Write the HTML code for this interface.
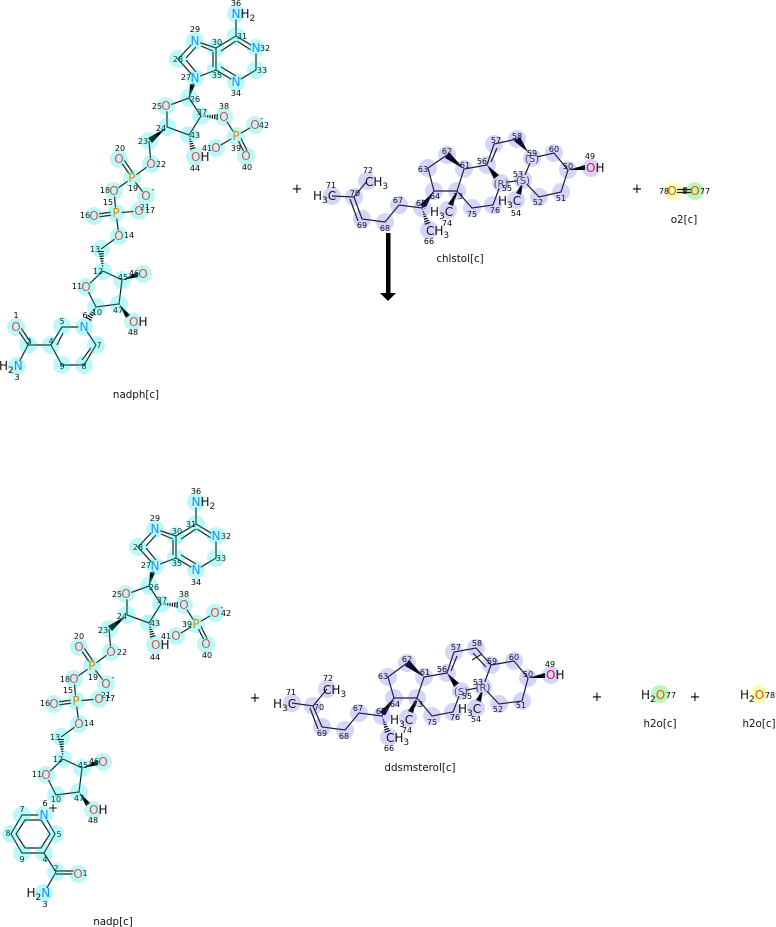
<!DOCTYPE html>
<html><head><meta charset="utf-8"><style>
html,body{margin:0;padding:0;background:#fff}
svg{display:block}
text{font-family:"DejaVu Sans","Liberation Sans",sans-serif}
.b{fill:none;stroke:#1a1a1a;stroke-width:1.2}
.m{fill:none;stroke:#fff;stroke-width:11;stroke-linecap:round}
.hc{fill:none;stroke:#00e5e5;stroke-width:18;stroke-linecap:round;opacity:.26}
.hl{fill:none;stroke:#4040e0;stroke-width:18;stroke-linecap:round;opacity:.22}
.d{stroke:#fff;stroke-width:9;stroke-dasharray:1.2 1.2;fill:none}
.nm text{font-size:8px;text-anchor:middle;fill:#000}
.at text{font-size:12px;text-anchor:middle}
.o{fill:#d9534f}.n{fill:#1e90ff}.p{fill:#cc8a10}.r{fill:#e8103c}.f{fill:#f05020}
.lb{font-size:10.3px;text-anchor:middle;fill:#111}
.pl{font-size:13px;text-anchor:middle;fill:#000}
.t{font-size:12px;fill:#111}
.s{font-size:9px}
.st{font-size:10px;text-anchor:middle;fill:#444}
</style></head><body>
<svg width="776" height="927" viewBox="0 0 776 927" xmlns="http://www.w3.org/2000/svg">
<defs>
<g id="w"><polygon points="189,98 190,84 195,85"/><polygon points="166,128 148,138 152,143"/><polygon points="122,280 138,272 139,277"/><polygon points="119,304 126,318 130,315"/>
<polygon points="201,116 218,114 218,120"/><path class="d" d="M201 116L218 117"/><polygon points="189,135 190,151 196,149"/><path class="d" d="M189 135L193 150"/><polygon points="103,270 98,251 104,251"/><path class="d" d="M103 270L101 251"/></g>
<path id="cb" class="b" d="M236 18V36L256 48V70L236 82L216 70V48L236 36M216 48L195 41L178 59L195 78L216 70M213 52V67M186 58L196 47M201 46L213 51M186 60L196 72M237 41L251 50M221 51L236 41M221 67L236 76M195 78L189 98L201 116L189 135L167 127V106L189 98M224 117L236 136L255 125M236 136L216 148M236 136L246 156M239 134.500L249 154.500M149 141L151 164L132 178L119 159M135 176L122 157M132 178L146 196M132 178L114 191L116 213M116 211.500L94 214.500M116 214.500L94 217.500M116 213L139 211M116 213L119 236L101 249M103 271L86 287L96 307L119 304L122 280L103 271"/>
<path id="cm" class="m" d="M236 14h0M256 48h0M236 82h0M195 41h0M195 78h0M166 106h0M224 117h0M255 125h0M216 148h0M246 156h0M236 136h0M195 157h0M151 164h0M119 159h0M132 178h0M146 196h0M114 191h0M116 213h0M94 216h0M139 211h0M119 236h0M86 287h0M143 274h0M133 322h0"/>
<path id="ch" class="hc" d="M236 14h0M236 36h0M256 48h0M256 70h0M236 82h0M216 70h0M216 48h0M195 41h0M178 59h0M195 78h0M189 98h0M166 106h0M201 116h0M167 127h0M189 135h0M224 117h0M236 136h0M255 125h0M216 148h0M246 156h0M195 157h0M149 141h0M151 164h0M119 159h0M132 178h0M146 196h0M114 191h0M116 213h0M94 216h0M139 211h0M119 236h0M101 249h0M103 271h0M86 287h0M122 280h0M143 274h0M96 307h0M119 304h0M133 322h0M28 345h0"/>
</defs>

<!-- molecule 1 -->
<g fill="#000"><use href="#w"/><polygon points="96,307 85,318 91,322"/><path class="d" d="M96 307L88 320"/></g>
<use href="#cb"/>
<path class="b" d="M84 327H62L51 345L62 365H84L96 345L84 327M51 345H28L16 327M28 345L17 366M57 345L63 333M82 360L91 348M31 343L19 325"/>
<use href="#cm"/><path class="m" d="M84 327h0M16 327h0M17 366h0"/>
<g class="nm">
<text x="236" y="6">36</text><text x="195" y="32">29</text><text x="242" y="39">31</text><text x="217" y="45">30</text><text x="265" y="51">32</text><text x="262" y="73">33</text><text x="178" y="62">28</text><text x="186" y="80">27</text><text x="217" y="78">35</text><text x="236" y="96">34</text><text x="195" y="102">26</text><text x="157" y="109">25</text><text x="202" y="115">37</text><text x="224" y="109">38</text><text x="264" y="128">42</text><text x="262" y="121">-</text><text x="161" y="131">24</text><text x="195" y="138">43</text><text x="143" y="144">23</text><text x="207" y="151">41</text><text x="236" y="151">39</text><text x="247" y="170">40</text><text x="195" y="171">44</text><text x="120" y="151">20</text><text x="161" y="167">22</text><text x="133" y="191">19</text><text x="153" y="192">-</text><text x="105" y="193">18</text><text x="108" y="205">15</text><text x="145" y="210">21</text><text x="150" y="213">17</text><text x="85" y="218">16</text><text x="129" y="238">14</text><text x="95" y="252">13</text><text x="98" y="274">12</text><text x="123" y="280">45</text><text x="134" y="276">46</text><text x="77" y="289">11</text><text x="97" y="315">10</text><text x="118" y="313">47</text><text x="85" y="318">6</text><text x="62" y="324">5</text><text x="51" y="344">4</text><text x="29" y="344">2</text><text x="16" y="318">1</text><text x="99" y="348">7</text><text x="62" y="369">9</text><text x="84" y="369">8</text><text x="17" y="380">3</text><text x="133" y="335">48</text>
</g>
<use href="#ch"/><path class="hc" d="M84 327h0M62 326h0M51 345h0M16 327h0M17 366h0M62 365h0M84 365h0M96 345h0"/>
<g class="at">
<text x="236" y="18" class="n" style="text-anchor:start" dx="-4.500">N<tspan fill="#111">H</tspan><tspan fill="#111" class="s" dy="3">2</tspan></text>
<text x="256" y="52" class="n">N</text><text x="236" y="86" class="n">N</text><text x="195" y="45" class="n">N</text><text x="195" y="82" class="n">N</text>
<text x="166" y="110" class="o">O</text><text x="224" y="121" class="o">O</text><text x="255" y="129" class="o">O</text><text x="216" y="152" class="o">O</text><text x="246" y="160" class="o">O</text><text x="236" y="140" class="p">P</text>
<text x="191" y="161" class="o" style="text-anchor:start">O<tspan fill="#111">H</tspan></text>
<text x="151" y="168" class="o">O</text><text x="119" y="163" class="o">O</text><text x="132" y="182" class="p">P</text><text x="146" y="200" class="o">O</text><text x="114" y="195" class="o">O</text><text x="116" y="217" class="p">P</text><text x="94" y="220" class="o">O</text><text x="139" y="215" class="o">O</text><text x="119" y="240" class="o">O</text><text x="86" y="291" class="o">O</text><text x="143" y="278" class="o">O</text>
<text x="129" y="326" class="o" style="text-anchor:start">O<tspan fill="#111">H</tspan></text>
<text x="84" y="331" class="n">N</text><text x="16" y="331" class="o">O</text>
<text x="-1" y="370" style="text-anchor:start" fill="#111">H<tspan class="s" dy="3">2</tspan><tspan class="n" dy="-3">N</tspan></text>
</g>
<text x="136" y="398" class="lb">nadph[c]</text>

<text x="297" y="193" class="pl">+</text>

<!-- cholesterol -->
<g fill="#000">
<polygon points="434,191 420,205 425,209"/><polygon points="464,169 449,152 445,158"/><polygon points="457,191 448,204 453,206"/><polygon points="487,165 494,179 499,175"/><polygon points="528,152 514,141 520,137"/><polygon points="523,182 516,193 521,195"/><polygon points="568,170 585,165 585,170"/>
<polygon points="422,208 425,226 431,224"/><path class="d" d="M422 208L428 225"/>
</g>
<path class="b" d="M332 196L354 197L367 181M354 197L362 219L385 222L399 205L422 208L434 191L428 168L447 155M434 191H457L464 169L487 165M457 191L472 208L493 205L501 183M487 165L494 144L517 139M497 148L491 162M532 158L554 153L568 170L561 192L539 197L523 180L532 158M501 183L523 180M350 199L358 221"/>
<path class="m" d="M501 183h0M523 180h0M532 158h0M591 168h0"/>
<text x="501" y="187" class="st">(R)</text><text x="523" y="184" class="st">(S)</text><text x="532" y="162" class="st">(S)</text>
<g class="nm">
<text x="331" y="188">71</text><text x="368" y="173">72</text><text x="355" y="196">70</text><text x="362" y="228">69</text><text x="385" y="231">68</text><text x="398" y="203">67</text><text x="421" y="206">65</text><text x="435" y="199">64</text><text x="423" y="172">63</text><text x="447" y="154">62</text><text x="465" y="168">61</text><text x="458" y="199">73</text><text x="447" y="226">74</text><text x="472" y="217">75</text><text x="495" y="213">76</text><text x="429" y="244">66</text><text x="507" y="191">55</text><text x="482" y="164">56</text><text x="496" y="143">57</text><text x="517" y="139">58</text><text x="532" y="156">59</text><text x="518" y="177">53</text><text x="516" y="216">54</text><text x="554" y="152">60</text><text x="568" y="169">50</text><text x="590" y="159">49</text><text x="561" y="201">51</text><text x="538" y="205">52</text>
</g>
<path class="hl" d="M332 196h0M354 197h0M367 181h0M362 219h0M385 222h0M399 205h0M422 208h0M429 230h0M434 191h0M428 168h0M447 155h0M464 169h0M457 191h0M448 210h0M472 208h0M493 205h0M501 183h0M487 165h0M494 144h0M517 139h0M532 158h0M523 180h0M516 200h0M554 153h0M568 170h0M591 168h0M561 192h0M539 197h0"/>
<g class="t">
<text x="313" y="200">H<tspan class="s" dy="3">3</tspan><tspan dy="-3">C</tspan></text>
<text x="365" y="186">CH<tspan class="s" dy="3">3</tspan></text>
<text x="430" y="216">H<tspan class="s" dy="3">3</tspan><tspan dy="-3">C</tspan></text>
<text x="426" y="235">CH<tspan class="s" dy="3">3</tspan></text>
<text x="498" y="205">H<tspan class="s" dy="3">3</tspan><tspan dy="-3">C</tspan></text>
<text x="586" y="172"><tspan class="r">O</tspan>H</text>
</g>
<text x="460" y="262" class="lb">chlstol[c]</text>

<!-- arrow -->
<path d="M386 233h4.500v60h5.500l-8 8l-8-8h6z" fill="#000" transform="translate(0,0)"/>

<text x="637" y="193" class="pl">+</text>

<!-- O2 -->
<path class="b" d="M677 189.500H691M677 192.500H691M684 187V194M686 187V194"/>
<circle cx="673" cy="191" r="9" fill="#ffffb4"/><circle cx="695" cy="191" r="9" fill="#b8f8b8"/>
<g class="nm"><text x="664" y="194">78</text><text x="705" y="194">77</text></g>
<g class="at"><text x="672" y="195" class="f">O</text><text x="695" y="195" class="f">O</text></g>
<path class="b" d="M677 189.500H691M677 192.500H691M684 187V194M686 187V194"/>
<text x="684" y="223" class="lb">o2[c]</text>

<!-- molecule 3 -->
<g transform="translate(-40,488)" fill="#000"><use href="#w"/></g>
<g transform="translate(-40,488)"><use href="#cb"/></g>
<path class="b" d="M44 815H22L11 834L22 853H44L55 834L44 815M41 820H25L16 834L25 848H41L50 834L41 820M44 853L56 872M56 871H78M56 874H78M56 872L44 893"/>
<g transform="translate(-40,488)"><use href="#cm"/></g><path class="m" d="M44 815h0M78 874h0M44 893h0"/>
<g class="nm">
<text x="196" y="494">36</text><text x="155" y="521">29</text><text x="191" y="527">31</text><text x="177" y="534">30</text><text x="226" y="539">32</text><text x="221" y="561">33</text><text x="138" y="550">28</text><text x="146" y="568">27</text><text x="177" y="566">35</text><text x="196" y="585">34</text><text x="154" y="590">26</text><text x="117" y="597">25</text><text x="162" y="603">37</text><text x="184" y="597">38</text><text x="226" y="616">42</text><text x="222" y="610">-</text><text x="187" y="627">39</text><text x="166" y="639">41</text><text x="207" y="658">40</text><text x="155" y="626">43</text><text x="122" y="619">24</text><text x="103" y="633">23</text><text x="155" y="660">44</text><text x="79" y="639">20</text><text x="122" y="655">22</text><text x="93" y="680">19</text><text x="113" y="680">-</text><text x="65" y="682">18</text><text x="68" y="693">15</text><text x="106" y="698">21</text><text x="110" y="701">17</text><text x="45" y="706">16</text><text x="89" y="726">14</text><text x="55" y="740">13</text><text x="58" y="762">12</text><text x="83" y="768">45</text><text x="94" y="764">46</text><text x="37" y="777">11</text><text x="56" y="802">10</text><text x="79" y="801">47</text><text x="93" y="823">48</text><text x="45" y="806">6</text><text x="22" y="812">7</text><text x="8" y="836">8</text><text x="22" y="862">9</text><text x="59" y="837">5</text><text x="45" y="862">4</text><text x="56" y="871">2</text><text x="85" y="876">1</text><text x="45" y="907">3</text>
</g>
<g transform="translate(-40,488)"><use href="#ch"/></g>
<path class="hc" d="M44 815h0M22 815h0M11 834h0M22 853h0M44 853h0M55 834h0M56 872h0M78 874h0M44 893h0"/>
<g class="at">
<text x="196" y="506" class="n" style="text-anchor:start" dx="-4.500">N<tspan fill="#111">H</tspan><tspan fill="#111" class="s" dy="3">2</tspan></text>
<text x="216" y="540" class="n">N</text><text x="196" y="574" class="n">N</text><text x="155" y="533" class="n">N</text><text x="155" y="570" class="n">N</text>
<text x="126" y="598" class="o">O</text><text x="184" y="609" class="o">O</text><text x="215" y="617" class="o">O</text><text x="176" y="640" class="o">O</text><text x="206" y="648" class="o">O</text><text x="196" y="628" class="p">P</text>
<text x="151" y="649" class="o" style="text-anchor:start">O<tspan fill="#111">H</tspan></text>
<text x="111" y="656" class="o">O</text><text x="79" y="651" class="o">O</text><text x="92" y="670" class="p">P</text><text x="106" y="688" class="o">O</text><text x="74" y="683" class="o">O</text><text x="76" y="705" class="p">P</text><text x="54" y="708" class="o">O</text><text x="99" y="703" class="o">O</text><text x="79" y="728" class="o">O</text><text x="46" y="779" class="o">O</text><text x="103" y="766" class="o">O</text>
<text x="89" y="814" class="o" style="text-anchor:start">O<tspan fill="#111">H</tspan></text>
<text x="44" y="819" class="n">N</text><text x="78" y="878" class="o">O</text>
<text x="26.500" y="897" style="text-anchor:start" fill="#111">H<tspan class="s" dy="3">2</tspan><tspan class="n" dy="-3">N</tspan></text>
<text x="53" y="812" fill="#111">+</text>
</g>
<text x="113" y="925" class="lb">nadp[c]</text>

<text x="255" y="702" class="pl">+</text>

<!-- ddsmsterol -->
<g fill="#000">
<polygon points="394,698 380,712 385,716"/><polygon points="424,677 409,660 405,666"/><polygon points="417,698 408,711 413,713"/><polygon points="447,673 454,687 459,683"/><polygon points="483,689 476,700 481,702"/><polygon points="528,678 545,673 545,678"/>
<polygon points="382,716 385,734 391,732"/><path class="d" d="M382 716L388 733"/>
</g>
<path class="b" d="M292 703L313 706L327 689M313 706L322 727L345 730L359 713L382 716L394 698L388 677L407 663M394 698H417L424 677L447 673M417 698L432 716L453 712L461 691M447 673L454 652L476 648L491 665L483 687L461 691M457 656L451 671M473 653L486 667M482 654L472 660M491 665L514 661L528 678L522 701L499 704L483 687M491 665L483 687M310 708L318 729"/>
<path class="m" d="M461 691h0M483 687h0M551 675h0"/>
<text x="461" y="695" class="st">(S)</text><text x="483" y="691" class="st">(R)</text>
<g class="nm">
<text x="291" y="695">71</text><text x="328" y="681">72</text><text x="319" y="710">70</text><text x="322" y="736">69</text><text x="344" y="739">68</text><text x="358" y="711">67</text><text x="381" y="714">65</text><text x="395" y="707">64</text><text x="383" y="679">63</text><text x="407" y="662">62</text><text x="425" y="675">61</text><text x="418" y="707">73</text><text x="407" y="733">74</text><text x="432" y="725">75</text><text x="455" y="720">76</text><text x="389" y="751">66</text><text x="467" y="699">55</text><text x="442" y="672">56</text><text x="456" y="650">57</text><text x="477" y="646">58</text><text x="492" y="664">59</text><text x="478" y="685">53</text><text x="476" y="722">54</text><text x="514" y="660">60</text><text x="528" y="677">50</text><text x="550" y="667">49</text><text x="521" y="708">51</text><text x="498" y="712">52</text>
</g>
<path class="hl" d="M292 703h0M313 706h0M327 689h0M322 727h0M345 730h0M359 713h0M382 716h0M389 737h0M394 698h0M388 677h0M407 663h0M424 677h0M417 698h0M408 718h0M432 716h0M453 712h0M461 691h0M447 673h0M454 652h0M476 648h0M491 665h0M483 687h0M476 708h0M514 661h0M528 678h0M551 675h0M522 701h0M499 704h0"/>
<g class="t">
<text x="273" y="708">H<tspan class="s" dy="3">3</tspan><tspan dy="-3">C</tspan></text>
<text x="323" y="694">CH<tspan class="s" dy="3">3</tspan></text>
<text x="390" y="724">H<tspan class="s" dy="3">3</tspan><tspan dy="-3">C</tspan></text>
<text x="386" y="742">CH<tspan class="s" dy="3">3</tspan></text>
<text x="458" y="713">H<tspan class="s" dy="3">3</tspan><tspan dy="-3">C</tspan></text>
<text x="546" y="679"><tspan class="r">O</tspan>H</text>
</g>
<text x="420" y="771" class="lb">ddsmsterol[c]</text>

<text x="597" y="701" class="pl">+</text>
<text x="695" y="701" class="pl">+</text>

<!-- water -->
<circle cx="660" cy="694" r="9" fill="#b8f8b8"/><circle cx="759" cy="694" r="9" fill="#ffffb4"/>
<g class="t">
<text x="641" y="699">H<tspan class="s" dy="3">2</tspan><tspan class="f" dy="-3">O</tspan></text>
<text x="740" y="699">H<tspan class="s" dy="3">2</tspan><tspan class="f" dy="-3">O</tspan></text>
</g>
<g class="nm"><text x="671" y="698">77</text><text x="770" y="698">78</text></g>
<text x="660" y="727" class="lb">h2o[c]</text>
<text x="759" y="727" class="lb">h2o[c]</text>
</svg>
</body></html>
